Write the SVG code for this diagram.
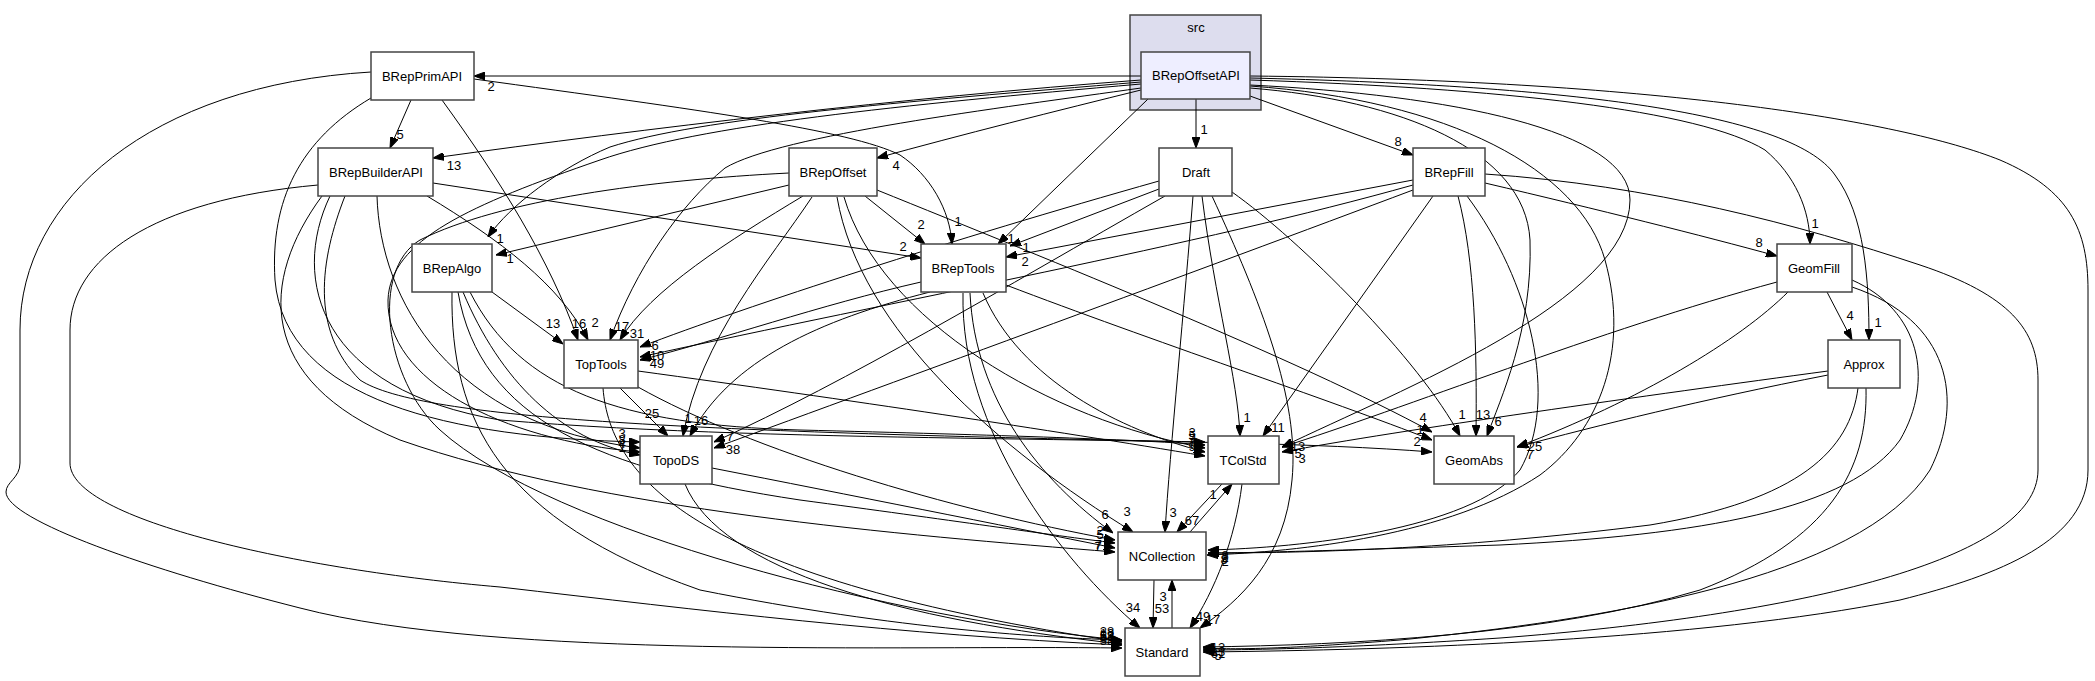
<svg xmlns="http://www.w3.org/2000/svg" width="2095" height="681" viewBox="0 0 2095 681">
<style>
.n rect{fill:#fff;stroke:#444;stroke-width:1.5}
.n text,.c text{font-family:"Liberation Sans",Arial,sans-serif;font-size:13px;text-anchor:middle;fill:#000}
#connectors path{fill:none;stroke:#000;stroke-width:1;marker-end:url(#a)}
#connectors text{font-family:"Liberation Sans",Arial,sans-serif;font-size:13px;text-anchor:middle;fill:#000}
</style>
<defs>
<marker id="a" markerWidth="11" markerHeight="8" refX="11" refY="4" orient="auto" markerUnits="userSpaceOnUse"><path d="M0,0 L11,4 L0,8 z" fill="#000" stroke="#000" stroke-width="1"/></marker>
</defs>
<rect width="2095" height="681" fill="#fff"/>
<g class="c" id="cluster_src"><rect x="1130" y="15" width="131" height="95" fill="#ddddee" stroke="#444" stroke-width="1.5"/><text x="1196" y="32">src</text></g>

<g id="connectors">
<path d="M1141,76 L474,76"/><text x="491" y="91">2</text>
<path d="M1141,80 C900,98 650,128 433,158"/><text x="454" y="170">13</text>
<path d="M1141,90 C1060,110 960,135 877,158"/><text x="896" y="170">4</text>
<path d="M1196,99 L1196,148"/><text x="1204" y="134">1</text>
<path d="M1250,96 L1413,155"/><text x="1398" y="146">8</text>
<path d="M1250,80 C1500,88 1700,110 1765,150 C1795,175 1810,210 1810,244"/><text x="1815" y="228">1</text>
<path d="M1250,78 C1550,85 1790,110 1835,175 C1865,215 1869,280 1869,340"/><text x="1878" y="327">1</text>
<path d="M1141,82 C900,102 700,118 610,147 C560,168 510,205 488,237"/><text x="500" y="243">1</text>
<path d="M1148,99 L998,244"/><text x="1011" y="243">1</text>
<path d="M1141,88 C1000,108 780,135 725,168 C680,205 635,270 610,340"/><text x="622" y="331">17</text>
<path d="M1141,84 C900,105 700,125 600,160 C470,205 390,240 388,300 C386,380 500,440 640,452"/><text x="622" y="452">1</text>
<path d="M1250,85 C1450,95 1630,130 1630,200 C1630,300 1400,390 1282,447"/><text x="1302" y="463">3</text>
<path d="M1250,88 C1400,100 1525,150 1530,240 C1533,330 1500,400 1487,436"/><text x="1498" y="426">6</text>
<path d="M1250,86 C1450,100 1580,170 1605,260 C1630,350 1600,430 1540,475 C1450,535 1300,552 1207,555"/><text x="1225" y="566">2</text>
<path d="M1250,76 C1650,80 1900,120 2000,160 C2070,190 2088,230 2088,290 L2088,470 C2088,540 2000,575 1900,600 C1700,640 1400,650 1203,652"/><text x="1218" y="652">13</text>

<path d="M411,100 L390,148"/><text x="400" y="139">5</text>
<path d="M474,79 C700,110 850,130 900,155 C930,175 950,210 952,244"/><text x="958" y="226">1</text>
<path d="M442,100 C500,180 550,260 578,340"/><text x="579" y="328">16</text>
<path d="M371,98 C300,140 270,200 275,280 C285,400 450,438 640,442"/><text x="622" y="438">3</text>
<path d="M371,72 C150,85 20,200 20,330 L20,463 C20,478 6,482 6,492 C6,520 150,570 300,608 C500,660 900,645 1122,648"/><text x="1107" y="643">61</text>

<path d="M433,183 L921,258"/><text x="903" y="251">2</text>
<path d="M427,196 C500,240 560,285 588,340"/><text x="595" y="327">2</text>
<path d="M377,196 C380,300 450,425 640,448"/><text x="622" y="444">8</text>
<path d="M345,196 C320,260 310,330 360,380 C420,420 700,432 1205,442"/><text x="1192" y="437">3</text>
<path d="M330,196 C290,280 320,390 500,420 C800,445 1200,434 1432,452"/><text x="1417" y="446">2</text>
<path d="M322,196 C260,280 255,380 400,440 C600,510 900,535 1115,552"/><text x="1098" y="549">7</text>
<path d="M318,185 C150,200 70,260 70,330 L70,463 C70,520 300,570 500,587 C700,610 900,635 1122,645"/><text x="1107" y="640">53</text>

<path d="M789,185 L496,255"/><text x="510" y="263">1</text>
<path d="M865,196 L925,244"/><text x="921" y="229">2</text>
<path d="M803,196 C730,240 650,290 620,340"/><text x="637" y="338">31</text>
<path d="M812,197 C770,260 700,340 683,436"/><text x="688" y="423">1</text>
<path d="M837,197 C860,330 1000,450 1133,532"/><text x="1127" y="516">3</text>
<path d="M844,197 C880,320 1050,420 1205,448"/><text x="1192" y="443">7</text>
<path d="M877,190 C1050,260 1300,360 1432,432"/><text x="1423" y="422">4</text>
<path d="M789,173 C650,180 500,200 420,240 C370,270 385,380 440,430 C550,530 900,620 1122,640"/><text x="1107" y="636">38</text>

<path d="M1159,189 L1010,246"/><text x="1026" y="252">1</text>
<path d="M1159,181 C950,240 750,305 640,347"/><text x="655" y="350">6</text>
<path d="M1165,196 C1000,290 850,380 714,442"/><text x="730" y="441">7</text>
<path d="M1202,196 C1215,300 1238,380 1240,436"/><text x="1247" y="422">1</text>
<path d="M1193,196 C1185,300 1170,450 1165,532"/><text x="1173" y="517">3</text>
<path d="M1212,196 C1260,300 1300,400 1292,480 C1285,560 1240,600 1200,628"/><text x="1213" y="624">17</text>
<path d="M1232,192 C1300,240 1420,360 1460,436"/><text x="1462" y="419">1</text>

<path d="M1413,180 L1006,257"/><text x="1025" y="266">2</text>
<path d="M1413,185 C1200,245 900,300 640,357"/><text x="657" y="368">49</text>
<path d="M1413,190 C1200,270 900,380 714,448"/><text x="733" y="454">38</text>
<path d="M1433,196 L1263,436"/><text x="1278" y="432">11</text>
<path d="M1458,196 C1475,260 1477,350 1476,436"/><text x="1483" y="419">13</text>
<path d="M1467,196 C1530,280 1560,400 1520,470 C1470,530 1300,548 1208,550"/><text x="1225" y="560">8</text>
<path d="M1485,174 C1650,185 1800,225 1920,265 C2010,295 2038,330 2038,380 L2038,470 C2038,560 1800,615 1500,638 C1350,648 1250,650 1203,650"/><text x="1218" y="658">61</text>
<path d="M1485,183 C1600,210 1700,235 1777,256"/><text x="1759" y="247">8</text>

<path d="M492,292 L563,344"/><text x="553" y="328">13</text>
<path d="M463,292 C500,380 560,440 640,455"/><text x="622" y="448">4</text>
<path d="M470,292 C520,390 620,425 800,430 C1000,435 1150,440 1205,445"/><text x="1192" y="440">5</text>
<path d="M458,292 C480,420 600,470 800,500 C950,520 1050,535 1115,543"/><text x="1100" y="539">5</text>
<path d="M452,292 C450,420 500,520 700,590 C900,630 1050,638 1122,640"/><text x="1107" y="638">12</text>

<path d="M921,282 C820,305 720,340 640,360"/><text x="657" y="360">10</text>
<path d="M930,292 C820,320 730,360 690,436"/><text x="701" y="425">16</text>
<path d="M963,293 C960,430 1060,560 1140,628"/><text x="1133" y="612">34</text>
<path d="M970,293 C975,400 1040,480 1113,533"/><text x="1105" y="519">6</text>
<path d="M983,293 C1020,380 1120,430 1205,452"/><text x="1192" y="451">9</text>
<path d="M1006,285 C1150,340 1330,400 1432,440"/><text x="1420" y="434">1</text>

<path d="M1827,292 L1852,340"/><text x="1850" y="320">4</text>
<path d="M1777,282 C1600,330 1400,410 1282,447"/><text x="1298" y="451">13</text>
<path d="M1788,292 C1740,340 1640,400 1517,447"/><text x="1535" y="451">25</text>
<path d="M1852,280 C1920,310 1935,380 1900,440 C1850,510 1700,535 1500,545 C1350,550 1250,553 1208,553"/><text x="1225" y="562">2</text>
<path d="M1852,287 C1950,320 1965,400 1930,470 C1860,580 1600,620 1400,640 C1300,648 1240,650 1203,648"/><text x="1218" y="660">5</text>

<path d="M1828,371 C1650,395 1400,430 1282,452"/><text x="1298" y="458">5</text>
<path d="M1828,375 C1700,400 1600,425 1517,447"/><text x="1530" y="459">7</text>
<path d="M1858,388 C1850,450 1800,500 1650,525 C1450,550 1300,553 1208,553"/><text x="1224" y="564">8</text>
<path d="M1866,388 C1868,470 1830,540 1700,590 C1550,635 1350,645 1203,647"/><text x="1218" y="656">13</text>

<path d="M620,388 L668,436"/><text x="652" y="418">25</text>
<path d="M638,371 C850,400 1050,430 1205,456"/><text x="1192" y="447">7</text>
<path d="M638,387 C750,450 950,510 1115,540"/><text x="1100" y="535">2</text>
<path d="M603,388 C610,480 700,580 1122,642"/><text x="1107" y="641">53</text>

<path d="M712,468 C850,495 1000,525 1115,548"/><text x="1098" y="551">7</text>
<path d="M685,484 C720,570 900,620 1122,644"/><text x="1107" y="645">38</text>

<path d="M1190,532 L1232,484"/><text x="1213" y="499">1</text>
<path d="M1222,484 L1177,532"/><text x="1192" y="525">67</text>
<path d="M1154,580 L1153,628"/><text x="1162" y="613">53</text>
<path d="M1172,628 L1172,580"/><text x="1163" y="601">3</text>
<path d="M1242,484 C1235,540 1215,590 1190,628"/><text x="1203" y="621">49</text>
</g>

<g class="n" id="BRepOffsetAPI"><rect x="1141" y="52" width="109" height="47" style="fill:#eeeeff"/><text x="1196" y="80">BRepOffsetAPI</text></g>
<g class="n" id="BRepPrimAPI"><rect x="371" y="52" width="103" height="48"/><text x="422" y="81">BRepPrimAPI</text></g>
<g class="n" id="BRepBuilderAPI"><rect x="318" y="148" width="115" height="48"/><text x="376" y="177">BRepBuilderAPI</text></g>
<g class="n" id="BRepOffset"><rect x="789" y="148" width="88" height="48"/><text x="833" y="177">BRepOffset</text></g>
<g class="n" id="Draft"><rect x="1159" y="148" width="73" height="48"/><text x="1196" y="177">Draft</text></g>
<g class="n" id="BRepFill"><rect x="1413" y="148" width="72" height="48"/><text x="1449" y="177">BRepFill</text></g>
<g class="n" id="BRepAlgo"><rect x="412" y="244" width="80" height="48"/><text x="452" y="273">BRepAlgo</text></g>
<g class="n" id="BRepTools"><rect x="921" y="244" width="85" height="48"/><text x="963" y="273">BRepTools</text></g>
<g class="n" id="GeomFill"><rect x="1777" y="244" width="75" height="48"/><text x="1814" y="273">GeomFill</text></g>
<g class="n" id="TopTools"><rect x="564" y="340" width="74" height="48"/><text x="601" y="369">TopTools</text></g>
<g class="n" id="Approx"><rect x="1828" y="340" width="72" height="48"/><text x="1864" y="369">Approx</text></g>
<g class="n" id="TopoDS"><rect x="640" y="436" width="72" height="48"/><text x="676" y="465">TopoDS</text></g>
<g class="n" id="TColStd"><rect x="1208" y="436" width="71" height="48"/><text x="1243" y="465">TColStd</text></g>
<g class="n" id="GeomAbs"><rect x="1434" y="436" width="80" height="48"/><text x="1474" y="465">GeomAbs</text></g>
<g class="n" id="NCollection"><rect x="1118" y="532" width="88" height="48"/><text x="1162" y="561">NCollection</text></g>
<g class="n" id="Standard"><rect x="1125" y="628" width="75" height="48"/><text x="1162" y="657">Standard</text></g>
</svg>
